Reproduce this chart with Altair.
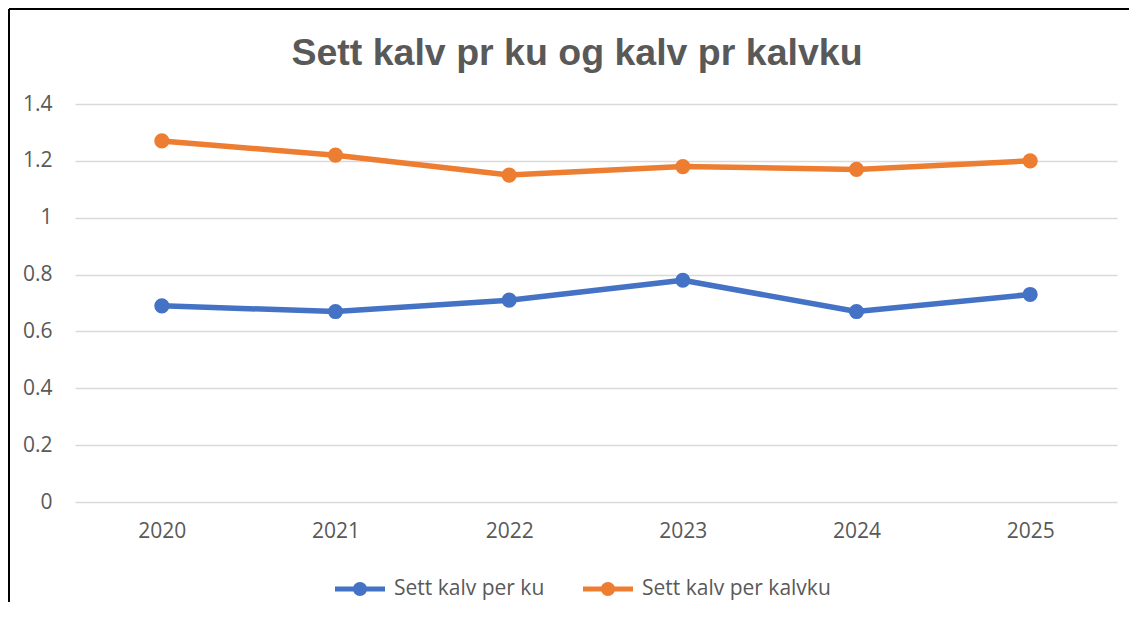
import altair as alt
import pandas as pd

years = ["2020", "2021", "2022", "2023", "2024", "2025"]
series_names = ["Sett kalv per ku", "Sett kalv per kalvku"]
per_ku = [0.69, 0.67, 0.71, 0.78, 0.67, 0.73]
per_kalvku = [1.27, 1.22, 1.15, 1.18, 1.17, 1.20]
colors = ["#4472C4", "#ED7D31"]
y_ticks = [0, 0.2, 0.4, 0.6, 0.8, 1.0, 1.2, 1.4]
title_text = "Sett kalv pr ku og kalv pr kalvku"

rows = []
for y, v in zip(years, per_ku):
    rows.append({"year": y, "series": series_names[0], "value": v})
for y, v in zip(years, per_kalvku):
    rows.append({"year": y, "series": series_names[1], "value": v})
df = pd.DataFrame(rows)

label_font = "Open Sans"
grey = "#595959"

x_enc = alt.X("year:O", sort=years, title=None,
              scale=alt.Scale(type="point", padding=0.5),
              axis=alt.Axis(labelAngle=0, labelFont=label_font, labelFontSize=21,
                            labelColor=grey, labelPadding=18, ticks=False,
                            domain=False, grid=False))
y_enc = alt.Y("value:Q", title=None,
              scale=alt.Scale(domain=[0, 1.4], nice=False),
              axis=alt.Axis(values=y_ticks, format=".1~f", labelFont=label_font,
                            labelFontSize=21, labelColor=grey, labelPadding=23,
                            ticks=False, domain=False, grid=True,
                            gridColor="#D9D9D9", gridWidth=1.5))

color_scale = alt.Scale(domain=series_names, range=colors)

symbol_path = ("M-1,-0.1L1,-0.1L1,0.1L-1,0.1Z "
               "M-0.28,0A0.28,0.28,0,1,1,0.28,0A0.28,0.28,0,1,1,-0.28,0Z")

legend = alt.Legend(title=None, orient="none", direction="horizontal",
                    legendX=260, legendY=460,
                    symbolType=symbol_path, symbolSize=2500,
                    symbolStrokeWidth=0, symbolOpacity=1,
                    labelFont=label_font, labelFontSize=21, labelLimit=400,
                    labelColor=grey, labelOffset=9,
                    columnPadding=38, padding=0)

color_enc = alt.Color("series:N", scale=color_scale, sort=series_names, legend=legend)

lines = alt.Chart(df).mark_line(strokeWidth=5.5, strokeCap="round", strokeJoin="round").encode(
    x=x_enc, y=y_enc, color=color_enc,
)

points = alt.Chart(df).mark_point(filled=True, size=230, opacity=1).encode(
    x=x_enc, y=y_enc, color=color_enc,
)

one = pd.DataFrame({"k": [0]})
frame_top = alt.Chart(one).mark_rule(color="black", strokeWidth=2).encode(
    x=alt.value(-66), x2=alt.value(1070), y=alt.value(-95))
frame_left = alt.Chart(one).mark_rule(color="black", strokeWidth=2).encode(
    x=alt.value(-66), y=alt.value(-95), y2=alt.value(520))
title_mark = alt.Chart(pd.DataFrame({"t": [title_text]})).mark_text(
    font="Liberation Sans", fontSize=37.5, fontWeight="bold", color=grey,
    align="center", baseline="alphabetic").encode(
    text="t:N", x=alt.value(502), y=alt.value(-39))

chart = alt.layer(frame_top, frame_left, title_mark, lines, points).properties(
    width=1042, height=398,
    autosize=alt.AutoSizeParams(type="none"),
    padding={"left": 67, "top": 96, "right": 12, "bottom": 100},
).configure(background="white").configure_view(strokeWidth=0, stroke="transparent")

chart.save("out.html", embed_options={"renderer": "svg", "actions": False})
